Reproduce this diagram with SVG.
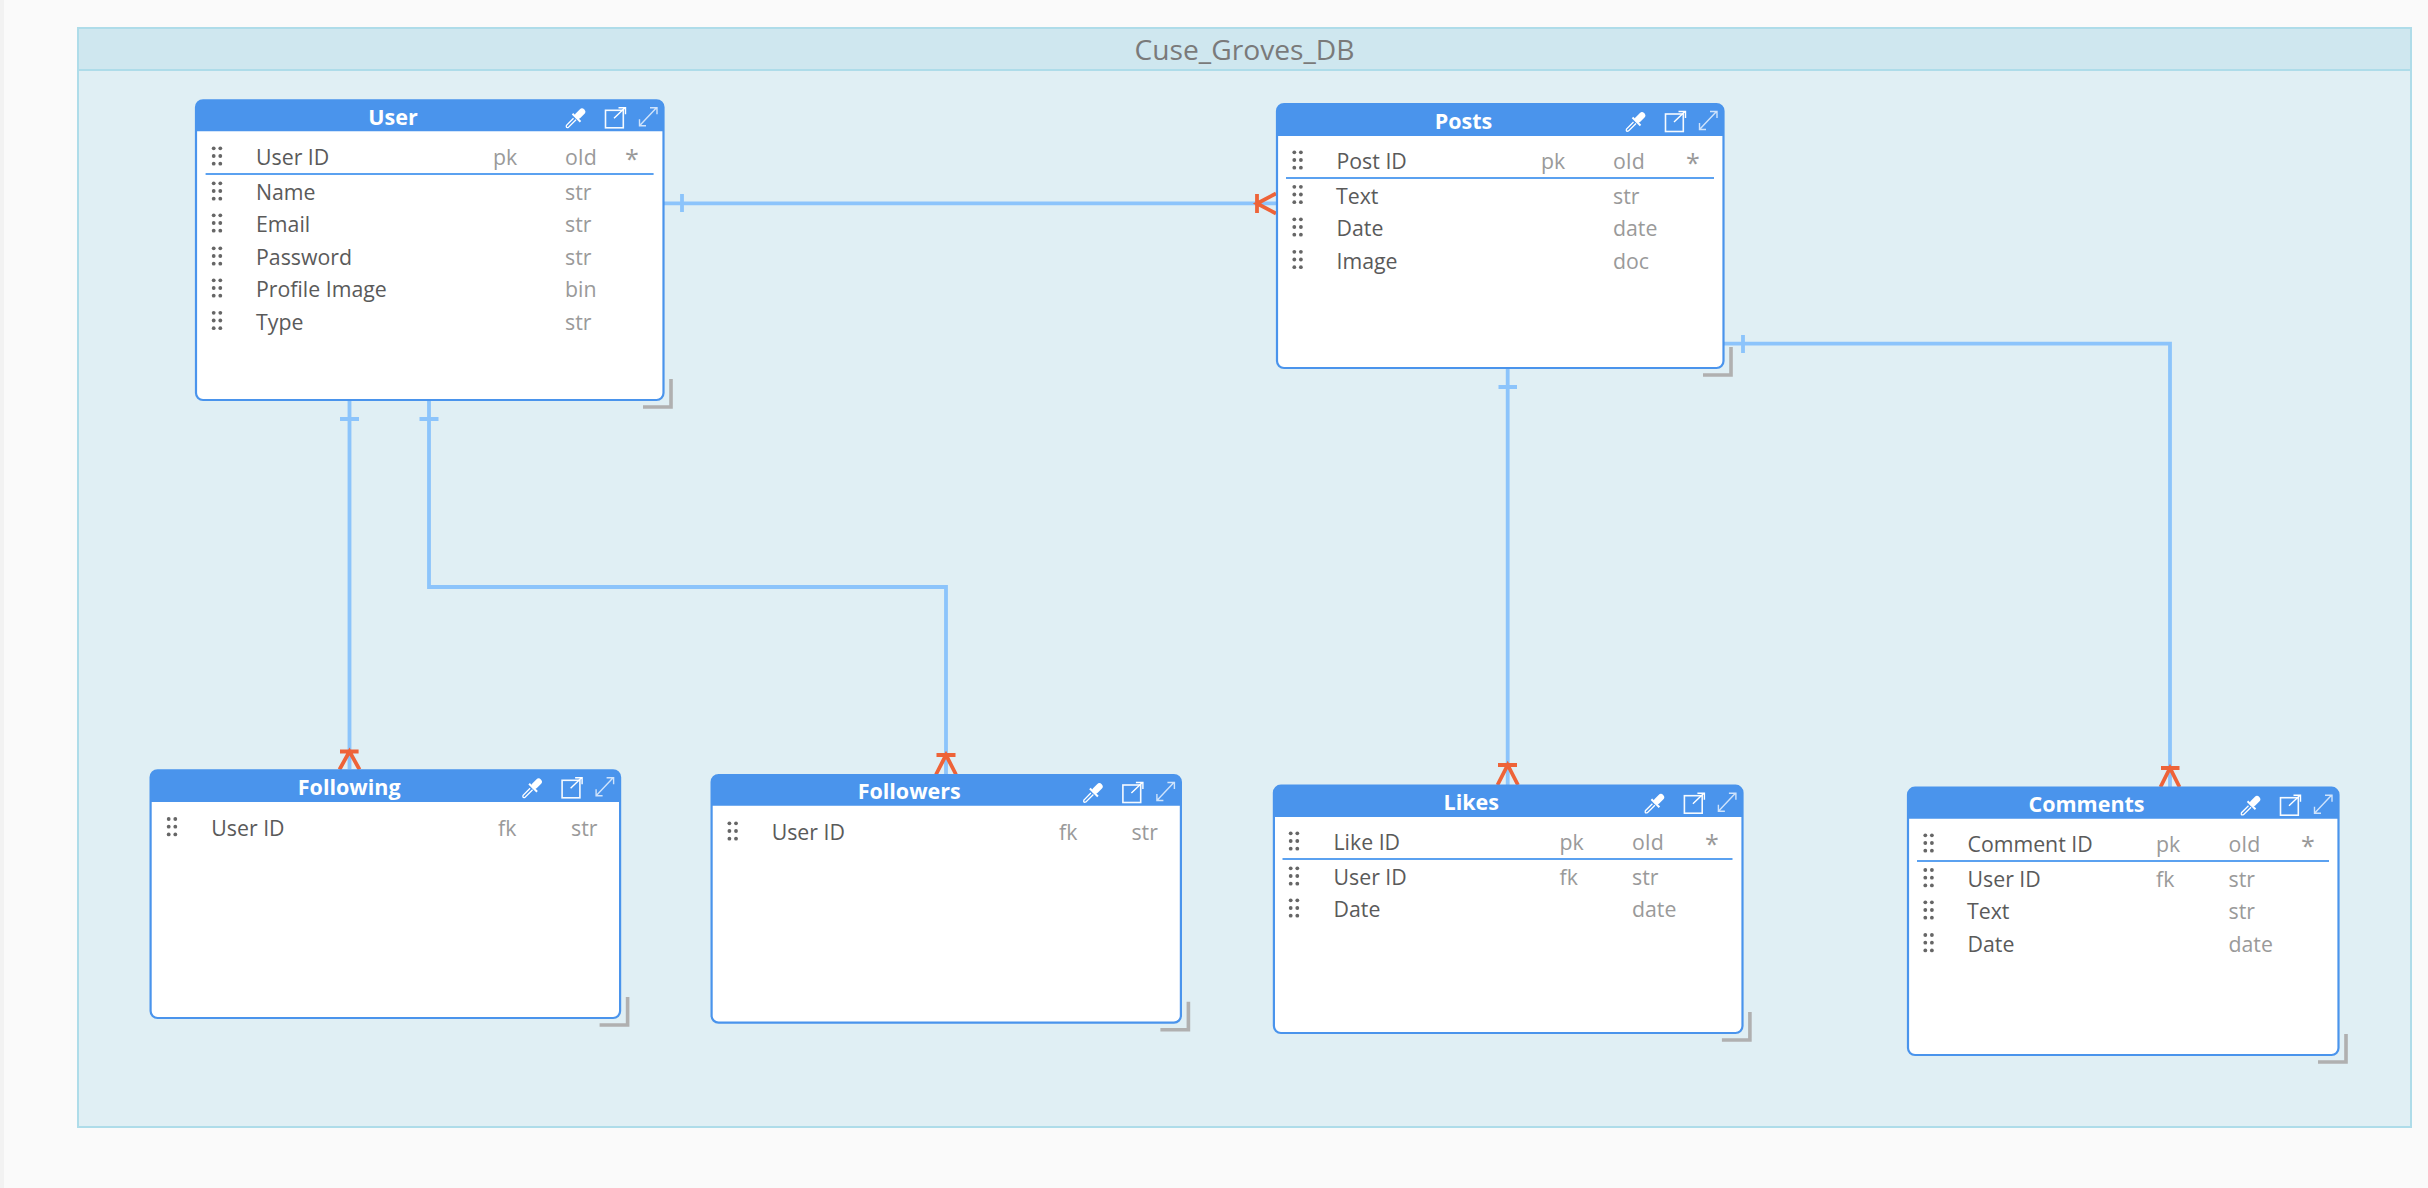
<svg xmlns="http://www.w3.org/2000/svg" width="2428" height="1188" viewBox="0 0 2428 1188">
<style>
text{font-family:"Open Sans","Noto Sans","DejaVu Sans",sans-serif;font-size:21.3px}
.t{font-weight:700;fill:#fff;text-anchor:middle;font-size:21.5px}
.n{fill:#5a5a5a}
.k{fill:#9a9a9a}
.s{font-size:25px;fill:#999}
.box{fill:#fff;stroke:#4a94ec;stroke-width:2.2}
.hd{fill:#4a94ec}
.sep{stroke:#5ba1f0;stroke-width:2;fill:none}
.rs{stroke:#b0b0b0;stroke-width:3.6;fill:none}
.c{stroke:#8cc4fb;stroke-width:3.8;fill:none}
.cr{stroke:#ee6338;stroke-width:3.8;fill:none}
</style>
<defs>
<g id="grip" fill="#666">
<circle cx="-3.3" cy="-16.7" r="1.9"/><circle cx="3.3" cy="-16.7" r="1.9"/>
<circle cx="-3.3" cy="-9" r="1.9"/><circle cx="3.3" cy="-9" r="1.9"/>
<circle cx="-3.3" cy="-1.3" r="1.9"/><circle cx="3.3" cy="-1.3" r="1.9"/>
</g>
<g id="icons" fill="none">
<path d="M-82 12.500L-86 16.500" stroke="#fff" stroke-width="6.500" stroke-linecap="round"/>
<path d="M-91.500 14.500L-83.500 22.500" stroke="#fff" stroke-width="2"/>
<path d="M-90.500 19L-97.500 26Q-98.500 29 -95.500 28L-88 20.500" stroke="#fff" stroke-width="1.300"/>
<rect x="-58.500" y="11" width="17.800" height="17.500" stroke="#fff" stroke-width="1.600" opacity=".95"/>
<path d="M-50 19L-39 8.500M-45.500 8.500H-38.500V15" stroke="#fff" stroke-width="1.400"/>
<path d="M-24.500 26.500L-7.500 8.500M-14 8.500H-7V15M-24.500 20V26.500H-18" stroke="#cfe3fb" stroke-width="1.400"/>
</g>
<path id="rz" d="M-21 7H7V-21" class="rs"/>
</defs>

<rect width="2428" height="1188" fill="#fafafa"/>
<rect width="4" height="1188" fill="#f2f2f2"/>

<g id="frame">
<rect x="78" y="28" width="2333" height="1099" fill="#e0eff4" stroke="#aedce9" stroke-width="2"/>
<rect x="78" y="28" width="2333" height="42" fill="#cfe7ef" stroke="#aedce9" stroke-width="2"/>
<text x="1244.500" y="60" text-anchor="middle" style="font-size:28.200px;fill:#7a7a7a">Cuse_Groves_DB</text>
</g>

<g id="connectors">
<path class="c" d="M664 203.300H1276M682 194V212"/>
<path class="cr" d="M1257 194V213M1276 193.500L1257 203.500L1276 213.500"/>
<path class="c" d="M1724 343.700H2170V787M1743 335V353"/>
<path class="cr" d="M2161 768H2179.500M2160.500 787L2170 768L2179.500 787"/>
<path class="c" d="M349.500 400V769M340 419H359"/>
<path class="cr" d="M340 751.500H358.600M339.500 769.500L349.500 751.500L359.500 769.500"/>
<path class="c" d="M429 400V587H946V774M419.500 419H438.500"/>
<path class="cr" d="M936.500 755H955.500M936 774.500L946 755L956 774.500"/>
<path class="c" d="M1507.700 368V785M1498.500 387H1517"/>
<path class="cr" d="M1498 765H1517M1497.500 785L1507.700 765L1518 785"/>
</g>

<g id="node-user">
<rect class="box" x="196" y="100.300" width="467.500" height="299.700" rx="7"/>
<path class="hd" d="M196 131.300V107.300a7 7 0 0 1 7-7H656.500a7 7 0 0 1 7 7V131.300Z"/>
<text class="t" x="393" y="125">User</text>
<use href="#icons" x="664" y="99.300"/>
<use href="#rz" x="664" y="400"/>
<use href="#grip" x="217" y="165"/>
<text class="n" x="256" y="165">User ID</text><text class="k" x="493" y="165">pk</text><text class="k" x="565" y="165">oId</text><text class="s" x="625" y="168">*</text>
<path class="sep" d="M205.600 174H653.600"/>
<use href="#grip" x="217" y="200"/><text class="n" x="256" y="200">Name</text><text class="k" x="565" y="200">str</text>
<use href="#grip" x="217" y="232"/><text class="n" x="256" y="232">Email</text><text class="k" x="565" y="232">str</text>
<use href="#grip" x="217" y="265"/><text class="n" x="256" y="265">Password</text><text class="k" x="565" y="265">str</text>
<use href="#grip" x="217" y="297"/><text class="n" x="256" y="297">Profile Image</text><text class="k" x="565" y="297">bin</text>
<use href="#grip" x="217" y="329.500"/><text class="n" x="256" y="329.500">Type</text><text class="k" x="565" y="329.500">str</text>
</g>

<g id="node-posts">
<rect class="box" x="1277" y="104" width="446.500" height="264" rx="7"/>
<path class="hd" d="M1277 136V111a7 7 0 0 1 7-7H1716.500a7 7 0 0 1 7 7V136Z"/>
<text class="t" x="1463.500" y="129">Posts</text>
<use href="#icons" x="1724" y="103"/>
<use href="#rz" x="1724" y="368"/>
<use href="#grip" x="1297.600" y="169"/>
<text class="n" x="1336.500" y="169">Post ID</text><text class="k" x="1541" y="169">pk</text><text class="k" x="1613" y="169">oId</text><text class="s" x="1686" y="172">*</text>
<path class="sep" d="M1286 178H1714"/>
<use href="#grip" x="1297.600" y="203.500"/><text class="n" x="1336" y="203.500">Text</text><text class="k" x="1613" y="203.500">str</text>
<use href="#grip" x="1297.600" y="236"/><text class="n" x="1336.500" y="236">Date</text><text class="k" x="1613" y="236">date</text>
<use href="#grip" x="1297.600" y="268.500"/><text class="n" x="1336.500" y="268.500">Image</text><text class="k" x="1613" y="268.500">doc</text>
</g>

<g id="node-following">
<rect class="box" x="150.600" y="770.300" width="469.500" height="247.700" rx="7"/>
<path class="hd" d="M150.600 802V777.300a7 7 0 0 1 7-7H613.100a7 7 0 0 1 7 7V802Z"/>
<text class="t" x="349.200" y="795">Following</text>
<use href="#icons" x="620.600" y="769.300"/>
<use href="#rz" x="620.600" y="1018"/>
<use href="#grip" x="172" y="835.700"/>
<text class="n" x="211.300" y="835.700">User ID</text><text class="k" x="498" y="835.700">fk</text><text class="k" x="571" y="835.700">str</text>
</g>

<g id="node-followers">
<rect class="box" x="711.600" y="775" width="469.300" height="247.700" rx="7"/>
<path class="hd" d="M711.600 805.700V782a7 7 0 0 1 7-7H1173.900a7 7 0 0 1 7 7V805.700Z"/>
<text class="t" x="909.200" y="799">Followers</text>
<use href="#icons" x="1181.400" y="774"/>
<use href="#rz" x="1181.400" y="1022.700"/>
<use href="#grip" x="732.700" y="840"/>
<text class="n" x="771.700" y="840">User ID</text><text class="k" x="1059" y="840">fk</text><text class="k" x="1131.400" y="840">str</text>
</g>

<g id="node-likes">
<rect class="box" x="1273.900" y="785.700" width="468.600" height="247.300" rx="7"/>
<path class="hd" d="M1273.900 817V792.700a7 7 0 0 1 7-7H1735.500a7 7 0 0 1 7 7V817Z"/>
<text class="t" x="1471.300" y="810">Likes</text>
<use href="#icons" x="1742.900" y="784.700"/>
<use href="#rz" x="1742.900" y="1033"/>
<use href="#grip" x="1294" y="850"/>
<text class="n" x="1333.500" y="850">Like ID</text><text class="k" x="1559.600" y="850">pk</text><text class="k" x="1632" y="850">oId</text><text class="s" x="1705" y="853">*</text>
<path class="sep" d="M1282.500 859H1732.500"/>
<use href="#grip" x="1294" y="885"/><text class="n" x="1333.500" y="885">User ID</text><text class="k" x="1559.600" y="885">fk</text><text class="k" x="1632" y="885">str</text>
<use href="#grip" x="1294" y="917"/><text class="n" x="1333.500" y="917">Date</text><text class="k" x="1632" y="917">date</text>
</g>

<g id="node-comments">
<rect class="box" x="1908" y="787.700" width="430.500" height="267.300" rx="7"/>
<path class="hd" d="M1908 818.700V794.700a7 7 0 0 1 7-7H2331.500a7 7 0 0 1 7 7V818.700Z"/>
<text class="t" x="2086.500" y="812">Comments</text>
<use href="#icons" x="2339" y="786.700"/>
<use href="#rz" x="2339" y="1055"/>
<use href="#grip" x="1928.600" y="852"/>
<text class="n" x="1967.500" y="852">Comment ID</text><text class="k" x="2156" y="852">pk</text><text class="k" x="2228.500" y="852">oId</text><text class="s" x="2301" y="855">*</text>
<path class="sep" d="M1917 861H2329"/>
<use href="#grip" x="1928.600" y="886.700"/><text class="n" x="1967.500" y="886.700">User ID</text><text class="k" x="2156" y="886.700">fk</text><text class="k" x="2228.500" y="886.700">str</text>
<use href="#grip" x="1928.600" y="919"/><text class="n" x="1967" y="919">Text</text><text class="k" x="2228.500" y="919">str</text>
<use href="#grip" x="1928.600" y="951.700"/><text class="n" x="1967.500" y="951.700">Date</text><text class="k" x="2228.500" y="951.700">date</text>
</g>
</svg>
